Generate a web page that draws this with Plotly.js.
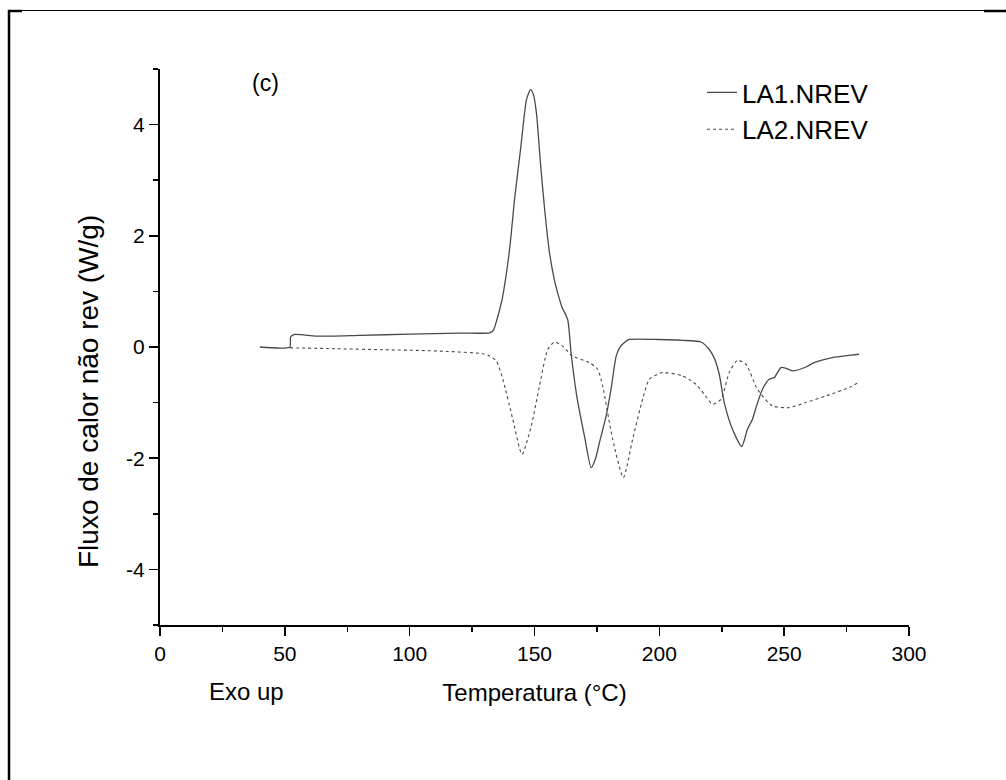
<!DOCTYPE html>
<html>
<head>
<meta charset="utf-8">
<script src="https://cdn.plot.ly/plotly-3.0.1.min.js"></script>
<style>
html,body{margin:0;padding:0;background:#fff;}
#chart{width:1006px;height:780px;}
</style>
</head>
<body>
<div id="chart"></div>
<script>
// LA1.NREV (solid)
var la1_T = [40, 52, 52.3, 54, 62.7, 80, 100, 120, 132, 133.5, 135, 137, 140, 142, 144.4, 146.8, 148.4, 149.5, 150.8, 152.4, 154, 156, 158, 159.3, 161, 163.3, 164.7, 167, 170, 172.7, 174.5, 176, 178.7, 180.5, 182.7, 184, 186, 188, 200, 209.3, 216.7, 220, 222, 224, 226, 229.3, 233, 235.3, 237.3, 239, 241.3, 244, 246, 248.7, 250.5, 253.3, 258.7, 262, 269.3, 276, 280];
var la1_Q = [0, 0, 0.18, 0.225, 0.195, 0.21, 0.23, 0.25, 0.255, 0.3, 0.5, 0.85, 1.75, 2.65, 3.55, 4.45, 4.63, 4.55, 4.2, 3.3, 2.5, 1.7, 1.2, 0.97, 0.72, 0.49, -0.13, -0.9, -1.6, -2.17, -2.0, -1.72, -1.24, -0.8, -0.17, -0.02, 0.08, 0.135, 0.135, 0.12, 0.09, -0.045, -0.2, -0.49, -1.0, -1.48, -1.79, -1.48, -1.30, -1.05, -0.76, -0.58, -0.55, -0.37, -0.38, -0.43, -0.36, -0.28, -0.19, -0.15, -0.13];

// LA2.NREV (dashed)
var la2_T = [52, 70, 90, 102.7, 115, 129.3, 132, 134.7, 137.3, 141.3, 145, 148.7, 152, 155.3, 158, 161.3, 165.3, 172, 175.3, 177.3, 181.3, 185.6, 189.3, 193.3, 196, 201.3, 209.3, 214.7, 218, 221.3, 224.7, 228, 231.3, 234.7, 239.3, 245.3, 252, 258.7, 266.7, 276, 280];
var la2_Q = [-0.015, -0.03, -0.05, -0.06, -0.08, -0.12, -0.16, -0.25, -0.58, -1.30, -1.93, -1.42, -0.70, -0.045, 0.09, 0.015, -0.165, -0.28, -0.40, -0.70, -1.66, -2.35, -1.66, -0.94, -0.58, -0.46, -0.52, -0.67, -0.85, -1.03, -0.94, -0.46, -0.24, -0.31, -0.76, -1.06, -1.09, -1.00, -0.88, -0.73, -0.63];

var xTickVals = [0, 50, 100, 150, 200, 250, 300];
var yTickVals = [-4, -2, 0, 2, 4];

var FONT = "Liberation Sans, Arial, sans-serif";

var traces = [
  {x: la1_T, y: la1_Q, name: "LA1.NREV", type: "scatter", mode: "lines",
   line: {color: "#4a4a4a", width: 1.3, shape: "spline", smoothing: 0.6}},
  {x: la2_T, y: la2_Q, name: "LA2.NREV", type: "scatter", mode: "lines",
   line: {color: "#4a4a4a", width: 1.1, dash: "3px,3px", shape: "spline", smoothing: 0.6}}
];

var axisCommon = {
  showline: true, linecolor: "#000", linewidth: 2,
  ticks: "outside", ticklen: 9, tickwidth: 1.5, tickcolor: "#000",
  showgrid: false, zeroline: false, mirror: false,
  tickfont: {family: FONT, size: 21, color: "#000"},
  minor: {ticks: "outside", ticklen: 5, tickwidth: 1.5, tickcolor: "#000", showgrid: false}
};

function px2x(p) { return (p - 160) / 749; }
function py2y(p) { return (625 - p) / 556; }

var layout = {
  width: 1006, height: 780,
  margin: {l: 160, r: 97, t: 69, b: 155},
  paper_bgcolor: "#fff", plot_bgcolor: "#fff",
  font: {family: FONT, color: "#000"},
  showlegend: true,
  legend: {x: px2x(702), y: 1.0, xanchor: "left", yanchor: "top", bgcolor: "rgba(0,0,0,0)",
           font: {family: FONT, size: 26, color: "#000"}, tracegroupgap: 0},
  xaxis: Object.assign({}, axisCommon, {
    range: [0, 300], tickvals: xTickVals, ticktext: xTickVals.map(String),
    minor: Object.assign({}, axisCommon.minor, {dtick: 25}),
    title: {text: "Temperatura (°C)", font: {family: FONT, size: 24, color: "#000"}, standoff: 20}
  }),
  yaxis: Object.assign({}, axisCommon, {
    range: [-5, 5], tickvals: yTickVals, ticktext: yTickVals.map(String),
    minor: Object.assign({}, axisCommon.minor, {dtick: 1}),
    title: {text: ""}
  }),
  annotations: [
    {text: "(c)", xref: "paper", yref: "paper", x: px2x(265), y: py2y(83),
     xanchor: "center", yanchor: "middle",
     showarrow: false, font: {family: FONT, size: 23, color: "#000"}},
    {text: "Exo up", xref: "paper", yref: "paper", x: px2x(246), y: py2y(691),
     xanchor: "center", yanchor: "middle",
     showarrow: false, font: {family: FONT, size: 24, color: "#000"}},
    {text: "Fluxo de calor não rev (W/g)", xref: "paper", yref: "paper",
     x: px2x(89), y: py2y(392), textangle: -90, xanchor: "center", yanchor: "middle",
     showarrow: false, font: {family: FONT, size: 28, color: "#000"}}
  ],
  shapes: [
    {type: "line", xref: "paper", yref: "paper", x0: px2x(9), x1: px2x(9),
     y0: py2y(10), y1: py2y(782), line: {color: "#000", width: 2.5}},
    {type: "line", xref: "paper", yref: "paper", x0: px2x(8), x1: px2x(1006),
     y0: py2y(10.5), y1: py2y(10.5), line: {color: "#000", width: 1.2}},
    {type: "line", xref: "paper", yref: "paper", x0: px2x(8), x1: px2x(22),
     y0: py2y(11), y1: py2y(11), line: {color: "#000", width: 2.5}},
    {type: "line", xref: "paper", yref: "paper", x0: px2x(984), x1: px2x(1006),
     y0: py2y(11), y1: py2y(11), line: {color: "#000", width: 2.5}}
  ]
};

Plotly.newPlot("chart", traces, layout, {displayModeBar: false, staticPlot: true});
</script>
</body>
</html>
